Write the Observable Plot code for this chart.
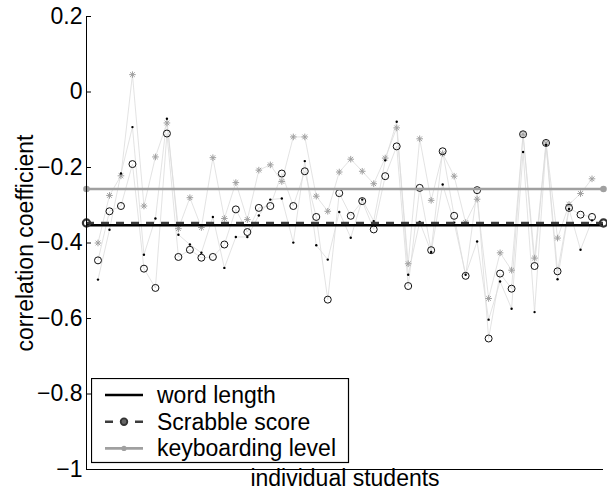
<!DOCTYPE html>
<html>
<head>
<meta charset="utf-8">
<script src="https://cdn.jsdelivr.net/npm/d3@7"></script>
<script src="https://cdn.jsdelivr.net/npm/@observablehq/plot@0.6"></script>
<style>
  html, body { margin: 0; padding: 0; background: #fff; }
  #wrap { position: relative; width: 607px; height: 497px; font-family: "Liberation Sans", Arial, sans-serif; }
  #legend { position: absolute; left: 91px; top: 378px; }
</style>
</head>
<body>
<div id="wrap"></div>
<script>
// ---- data ----
const students = d3.range(1, 45); // 44 individual students

const wordLength = [-0.497,-0.365,-0.216,-0.093,-0.431,-0.335,-0.071,-0.378,-0.404,-0.426,
  -0.331,-0.466,-0.384,-0.384,-0.327,-0.285,-0.282,-0.399,-0.183,-0.406,
  -0.444,-0.318,-0.386,-0.285,-0.342,-0.181,-0.079,-0.484,-0.344,-0.424,
  -0.245,-0.346,-0.484,-0.396,-0.603,-0.502,-0.574,-0.159,-0.583,-0.140,
  -0.496,-0.310,-0.418,-0.340];

const scrabbleScore = [-0.446,-0.316,-0.302,-0.191,-0.468,-0.519,-0.110,-0.437,-0.418,-0.439,
  -0.437,-0.404,-0.311,-0.371,-0.307,-0.302,-0.216,-0.302,-0.210,-0.331,
  -0.550,-0.268,-0.328,-0.289,-0.364,-0.223,-0.144,-0.514,-0.254,-0.419,
  -0.157,-0.328,-0.487,-0.260,-0.653,-0.481,-0.521,-0.112,-0.461,-0.135,
  -0.475,-0.307,-0.325,-0.331];

const keyboardingLevel = [-0.400,-0.274,-0.222,0.046,-0.302,-0.172,-0.082,-0.362,-0.280,-0.359,
  -0.174,-0.335,-0.240,-0.338,-0.207,-0.193,-0.237,-0.119,-0.119,-0.276,
  -0.316,-0.212,-0.178,-0.210,-0.243,-0.175,-0.095,-0.455,-0.124,-0.287,
  -0.163,-0.223,-0.346,-0.284,-0.547,-0.426,-0.472,-0.112,-0.440,-0.135,
  -0.387,-0.298,-0.269,-0.230];

const meanWordLength = -0.353;
const meanScrabble = -0.347;
const meanKeyboarding = -0.257;

const yTicks = [0.2, 0, -0.2, -0.4, -0.6, -0.8, -1];
const yDomain = [-1, 0.2];
const xDomain = [0, students.length + 1];
const seriesNames = ["word length", "Scrabble score", "keyboarding level"];
const yLabel = "correlation coefficient";
const xLabel = "individual students";

// ---- build tables ----
const rows = (vals) => students.map((s, i) => ({x: s, y: vals[i]}));
const wl = rows(wordLength), sc = rows(scrabbleScore), kb = rows(keyboardingLevel);
const ends = xDomain;

// MATLAB-like 8-armed asterisk
const asterisk8 = {
  draw(ctx, size) {
    const r = Math.sqrt(size / Math.PI);
    const d = r * Math.SQRT1_2;
    ctx.moveTo(-r, 0); ctx.lineTo(r, 0);
    ctx.moveTo(0, -r); ctx.lineTo(0, r);
    ctx.moveTo(-d, -d); ctx.lineTo(d, d);
    ctx.moveTo(-d, d); ctx.lineTo(d, -d);
  }
};

const W = 607, H = 497, mL = 86, mR = 4, mT = 16, mB = 28;
const FONT = "23px";
const lineGray = "#dcdcdc";
const kbGray = "#a0a0a0";

const chart = Plot.plot({
  width: W, height: H,
  marginLeft: mL, marginRight: mR, marginTop: mT, marginBottom: mB,
  style: {fontFamily: "'Liberation Sans', Arial, sans-serif", fontSize: FONT, background: "#fff", overflow: "visible"},
  x: {domain: xDomain, axis: null},
  y: {domain: yDomain, axis: null},
  marks: [
    // thin connecting lines
    Plot.line(kb, {x: "x", y: "y", stroke: lineGray, strokeWidth: 0.8}),
    Plot.line(sc, {x: "x", y: "y", stroke: lineGray, strokeWidth: 0.8}),
    Plot.line(wl, {x: "x", y: "y", stroke: lineGray, strokeWidth: 0.8}),
    // markers
    Plot.dot(kb, {x: "x", y: "y", symbol: asterisk8, r: 3.3, stroke: kbGray, strokeWidth: 1, fill: "none"}),
    Plot.dot(sc, {x: "x", y: "y", r: 3.5, stroke: "#111", strokeWidth: 1, fill: "none"}),
    Plot.dot(wl, {x: "x", y: "y", r: 1.2, fill: "#000", stroke: "none"}),
    // mean lines
    Plot.ruleY([meanKeyboarding], {stroke: kbGray, strokeWidth: 2.5}),
    Plot.dot(ends, {x: d => d, y: () => meanKeyboarding, r: 3.3, fill: kbGray, stroke: "none"}),
    Plot.ruleY([meanWordLength], {stroke: "#000", strokeWidth: 2.4}),
    Plot.ruleY([meanScrabble], {stroke: "#3c3c3c", strokeWidth: 2.5, strokeDasharray: "8,7"}),
    Plot.dot(ends, {x: d => d, y: () => meanScrabble, r: 3.6, fill: "none", stroke: "#333", strokeWidth: 2.2}),
    // axes
    Plot.ruleX([xDomain[0]], {stroke: "#000", strokeWidth: 1}),
    Plot.ruleY([yDomain[0]], {stroke: "#000", strokeWidth: 1}),
    Plot.tickY(yTicks, {y: d => d, stroke: "#000", strokeWidth: 1, insetRight: W - mL - mR - 5}),
    Plot.axisY(yTicks, {tickSize: 0, tickPadding: 4, tickFormat: d3.format("~g"), fontSize: FONT, fill: "#000", label: null}),
    Plot.text([yLabel], {text: d => d, frameAnchor: "left", textAnchor: "middle", rotate: -90, dx: -61, fontSize: FONT, fill: "#000"}),
    Plot.text([xLabel], {text: d => d, frameAnchor: "bottom", textAnchor: "middle", dy: 16.5, fontSize: FONT, fill: "#000"})
  ]
});
document.getElementById("wrap").appendChild(chart);

// ---- legend (HTML overlay) ----
const lw = 257, lh = 84;
const leg = d3.create("svg").attr("id", "legend").attr("width", lw + 2).attr("height", lh + 2)
  .style("font-family", "'Liberation Sans', Arial, sans-serif").style("font-size", FONT);
leg.append("rect").attr("x", 0.5).attr("y", 0.5).attr("width", lw).attr("height", lh)
  .attr("fill", "#fff").attr("stroke", "#000").attr("stroke-width", 1.2);
const styles = [
  {stroke: "#000", dash: null, marker: null},
  {stroke: "#3c3c3c", dash: "8,22", marker: "circle"},
  {stroke: kbGray, dash: null, marker: "dot"}
];
seriesNames.forEach((name, i) => {
  const cy = 17 + i * 26.7;
  const g = leg.append("g");
  g.append("line").attr("x1", 14).attr("x2", 52).attr("y1", cy).attr("y2", cy)
    .attr("stroke", styles[i].stroke).attr("stroke-width", 2.6)
    .attr("stroke-dasharray", styles[i].dash);
  if (styles[i].marker === "circle") {
    g.append("circle").attr("cx", 33).attr("cy", cy).attr("r", 3.3).attr("fill", "#666").attr("stroke", "#333").attr("stroke-width", 1.8);
  } else if (styles[i].marker === "dot") {
    g.append("circle").attr("cx", 33).attr("cy", cy).attr("r", 2.6).attr("fill", kbGray);
  }
  g.append("text").attr("x", 66).attr("y", cy).attr("dy", "0.35em").attr("fill", "#000").text(name);
});
document.getElementById("wrap").appendChild(leg.node());
</script>
</body>
</html>
